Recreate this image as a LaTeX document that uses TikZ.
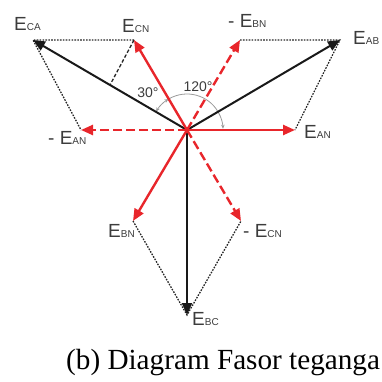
\documentclass[tikz,border=0pt]{standalone}
\usepackage{fontspec}
\setmainfont{Liberation Serif}
\newfontfamily\lblfont{Liberation Sans}
\usetikzlibrary{arrows.meta,calc}
\definecolor{phred}{HTML}{E8262B}
\definecolor{lblgray}{HTML}{3C3C3C}
\definecolor{arcgray}{HTML}{9A9A9A}
\newcommand{\Ev}[1]{{\fontsize{19}{19}\selectfont E}{\fontsize{10}{10}\selectfont #1}}
\newcommand{\nEv}[1]{{\fontsize{19}{19}\selectfont - E}{\fontsize{10}{10}\selectfont #1}}
\begin{document}
\begin{tikzpicture}[x=1pt,y=-1pt,
  phase/.style={draw=phred,line width=2.4pt,-{Triangle[length=12pt,width=10pt]}},
  negphase/.style={phase,dash pattern=on 9pt off 4pt},
  lineline/.style={draw=black!90,line width=2pt,-{Triangle[length=12pt,width=10pt]}},
  guide/.style={draw=black!85,line width=1.3pt,dash pattern=on 1.6pt off 1.3pt},
  guide2/.style={draw=black!85,line width=1.3pt,dash pattern=on 3.5pt off 2pt},
  anglearc/.style={draw=arcgray,line width=0.8pt},
  lbl/.style={inner sep=0pt,anchor=base west,text=lblgray,font=\lblfont},
  anglbl/.style={inner sep=0pt,text=lblgray,font=\lblfont\fontsize{14}{14}\selectfont}]
\useasboundingbox (0,0) rectangle (381,382);
\coordinate (O) at (187,130);
\coordinate (AN) at (295,130);
\coordinate (nAN) at (81,130);
\coordinate (CN) at (134,40);
\coordinate (nBN) at (240,40);
\coordinate (BN) at (133,221);
\coordinate (nCN) at (241,221);
\coordinate (AB) at (340,40);
\coordinate (CA) at (33,40);
\coordinate (BC) at (187,315);
\coordinate (mCA) at ($(O)!0.5!(CA)$);
% guides
\draw[guide] (CN) -- (CA) -- (nAN);
\draw[guide] (nBN) -- (AB) -- (AN);
\draw[guide] (BN) -- (BC) -- (nCN);
\draw[guide2] (CN) -- (mCA);
% angle arcs
\draw[anglearc,-{Stealth[length=4pt,width=3.5pt]}] ($(O)+(-120:36)$) arc[start angle=-120,end angle=-2,radius=36];
\draw[anglearc,{Stealth[length=4pt,width=3.5pt]}-{Stealth[length=4pt,width=3.5pt]}] ($(O)+(-121:36)$) arc[start angle=-121,end angle=-149,radius=36];
% line voltages
\draw[lineline] (O) -- (AB);
\draw[lineline] (O) -- (CA);
\draw[lineline] (O) -- (BC);
% phase voltages
\draw[negphase] (O) -- (nAN);
\draw[negphase] (O) -- (nBN);
\draw[negphase] (O) -- (nCN);
\draw[phase] (O) -- (AN);
\draw[phase] (O) -- (CN);
\draw[phase] (O) -- (BN);
% labels
\node[lbl] (lCA) at (14,31) {\Ev{CA}};
\node[lbl] (lCN) at (122,33) {\Ev{CN}};
\node[lbl] (lnBN) at (228,28) {\nEv{BN}};
\node[lbl] (lAB) at (353,45) {\Ev{AB}};
\node[lbl] (lAN) at (304,139) {\Ev{AN}};
\node[lbl] (lnAN) at (48,145) {\nEv{AN}};
\node[lbl] (lBN) at (108,237) {\Ev{BN}};
\node[lbl] (lnCN) at (243,237) {\nEv{CN}};
\node[lbl] (lBC) at (192,325) {\Ev{BC}};
\node[anglbl] (a30) at (148,93) {30°};
\node[anglbl] (a120) at (198,87) {120°};
\node[inner sep=0pt,anchor=base west,font=\fontsize{29.2}{29.2}\selectfont] (cap) at (66,369) {(b) Diagram Fasor teganga};
\end{tikzpicture}
\end{document}
